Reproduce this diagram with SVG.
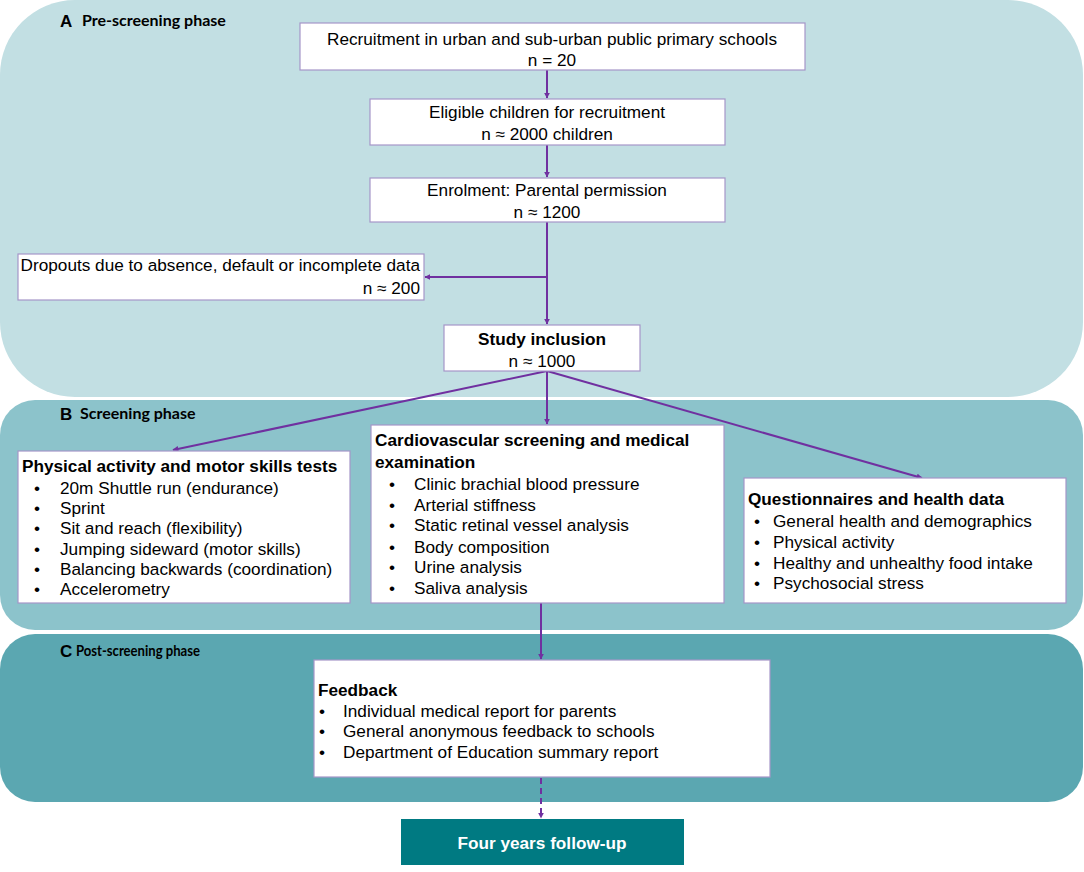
<svg xmlns="http://www.w3.org/2000/svg" width="1084" height="872" viewBox="0 0 1084 872">
<defs>
<marker id="ah" viewBox="0 0 10 10" refX="9" refY="5" markerWidth="6" markerHeight="6" orient="auto" markerUnits="userSpaceOnUse">
<path d="M0,0 L10,5 L0,10 z" fill="#7030a0"/>
</marker>
<style>
.box{fill:#ffffff;stroke:#a597c8;stroke-width:1.2}
.t{font-family:"Liberation Sans",Arial,sans-serif;font-size:17.2px;fill:#000}
.b{font-weight:bold}
.ph{font-family:Lato,"Open Sans",sans-serif;font-weight:bold;font-size:16px;fill:#000}
.phL{font-family:"Liberation Sans",Arial,sans-serif;font-weight:bold;font-size:17px;fill:#000}
.c{stroke:#7030a0;stroke-width:2;fill:none}
</style>
</defs>
<rect width="1084" height="872" fill="#ffffff"/>
<g id="phaseA">
<rect x="0" y="0" width="1083" height="397" rx="75" ry="75" fill="#c2dfe3"/>
<text x="60" y="27" class="phL">A</text><text x="82" y="26" class="ph">Pre-screening phase</text>
</g>
<g id="phaseB">
<rect x="0" y="400" width="1083" height="230" rx="35" ry="35" fill="#8cc3cb"/>
<text x="60" y="420" class="phL">B</text><text x="80" y="419" class="ph">Screening phase</text>
</g>
<g id="phaseC">
<rect x="0" y="634" width="1083" height="168" rx="35" ry="35" fill="#5ba7b1"/>
<text x="60" y="657" class="phL">C</text><text x="76" y="656" class="ph" style="font-size:15px" textLength="124" lengthAdjust="spacingAndGlyphs">Post-screening phase</text>
</g>
<g id="connectors">
<line x1="547" y1="70" x2="547" y2="98" class="c" marker-end="url(#ah)"/>
<line x1="547" y1="145" x2="547" y2="177" class="c" marker-end="url(#ah)"/>
<line x1="547" y1="222" x2="547" y2="324" class="c" marker-end="url(#ah)"/>
<line x1="547" y1="277" x2="425" y2="277" class="c" marker-end="url(#ah)"/>
<line x1="547" y1="371" x2="173" y2="450" class="c" marker-end="url(#ah)"/>
<line x1="547" y1="371" x2="547" y2="424" class="c" marker-end="url(#ah)"/>
<line x1="547" y1="371" x2="922" y2="478" class="c" marker-end="url(#ah)"/>
<line x1="541" y1="603" x2="541" y2="659" class="c" marker-end="url(#ah)"/>
<line x1="541" y1="778" x2="541" y2="818" class="c" stroke-dasharray="6,4" marker-end="url(#ah)"/>
</g>
<g id="recruitment">
<rect x="300" y="23" width="505" height="47" class="box"/>
<text x="552" y="45" class="t" text-anchor="middle">Recruitment in urban and sub-urban public primary schools</text>
<text x="552" y="66" class="t" text-anchor="middle">n = 20</text>
</g>
<g id="eligible">
<rect x="370" y="99" width="355" height="46" class="box"/>
<text x="547" y="118" class="t" text-anchor="middle">Eligible children for recruitment</text>
<text x="547" y="140" class="t" text-anchor="middle">n ≈ 2000 children</text>
</g>
<g id="enrolment">
<rect x="370" y="178" width="355" height="44" class="box"/>
<text x="547" y="196" class="t" text-anchor="middle">Enrolment: Parental permission</text>
<text x="547" y="218" class="t" text-anchor="middle">n ≈ 1200</text>
</g>
<g id="dropouts">
<rect x="18" y="254" width="406" height="46" class="box"/>
<text x="420" y="271" class="t" text-anchor="end">Dropouts due to absence, default or incomplete data</text>
<text x="420" y="294" class="t" text-anchor="end">n ≈ 200</text>
</g>
<g id="inclusion">
<rect x="444" y="325" width="196" height="46" class="box"/>
<text x="542" y="345" class="t b" text-anchor="middle">Study inclusion</text>
<text x="542" y="367" class="t" text-anchor="middle">n ≈ 1000</text>
</g>
<g id="physical">
<rect x="18" y="451" width="332" height="152" class="box"/>
<text x="22" y="472" class="t b">Physical activity and motor skills tests</text>
<g class="t">
<text x="34" y="494">•</text><text x="60" y="494">20m Shuttle run (endurance)</text>
<text x="34" y="514">•</text><text x="60" y="514">Sprint</text>
<text x="34" y="534">•</text><text x="60" y="534">Sit and reach (flexibility)</text>
<text x="34" y="555">•</text><text x="60" y="555">Jumping sideward (motor skills)</text>
<text x="34" y="575">•</text><text x="60" y="575">Balancing backwards (coordination)</text>
<text x="34" y="595">•</text><text x="60" y="595">Accelerometry</text>
</g>
</g>
<g id="cardio">
<rect x="371" y="425" width="353" height="178" class="box"/>
<text x="375" y="446" class="t b">Cardiovascular screening and medical</text>
<text x="375" y="468" class="t b">examination</text>
<g class="t">
<text x="389" y="490">•</text><text x="414" y="490">Clinic brachial blood pressure</text>
<text x="389" y="511">•</text><text x="414" y="511">Arterial stiffness</text>
<text x="389" y="531">•</text><text x="414" y="531">Static retinal vessel analysis</text>
<text x="389" y="553">•</text><text x="414" y="553">Body composition</text>
<text x="389" y="573">•</text><text x="414" y="573">Urine analysis</text>
<text x="389" y="594">•</text><text x="414" y="594">Saliva analysis</text>
</g>
</g>
<g id="questionnaires">
<rect x="744" y="478" width="322" height="125" class="box"/>
<text x="748" y="505" class="t b">Questionnaires and health data</text>
<g class="t">
<text x="754" y="527">•</text><text x="773" y="527">General health and demographics</text>
<text x="754" y="548">•</text><text x="773" y="548">Physical activity</text>
<text x="754" y="569">•</text><text x="773" y="569">Healthy and unhealthy food intake</text>
<text x="754" y="589">•</text><text x="773" y="589">Psychosocial stress</text>
</g>
</g>
<g id="feedback">
<rect x="314" y="660" width="456" height="117" class="box"/>
<text x="318" y="696" class="t b">Feedback</text>
<g class="t">
<text x="319" y="717">•</text><text x="343" y="717">Individual medical report for parents</text>
<text x="319" y="737">•</text><text x="343" y="737">General anonymous feedback to schools</text>
<text x="319" y="758">•</text><text x="343" y="758">Department of Education summary report</text>
</g>
</g>
<g id="followup">
<rect x="401" y="819" width="283" height="46" fill="#007a82"/>
<text x="542" y="849" class="t b" style="fill:#ffffff" text-anchor="middle">Four years follow-up</text>
</g>
</svg>
